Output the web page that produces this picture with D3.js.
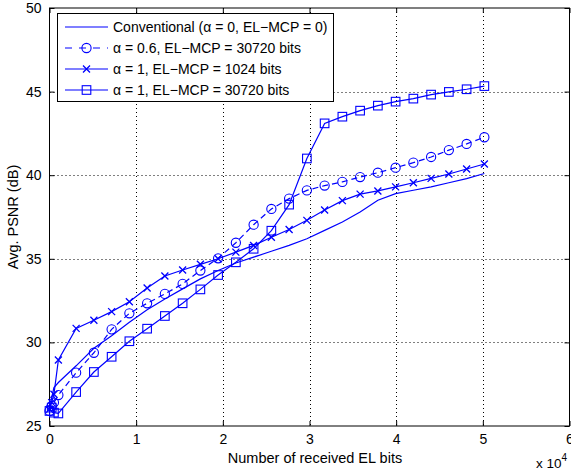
<!DOCTYPE html>
<html>
<head>
<meta charset="utf-8">
<script src="https://cdn.jsdelivr.net/npm/d3@7"></script>
<style>
  body { margin: 0; background: #fff; }
  svg { display: block; font-family: "Liberation Sans", Arial, sans-serif; }
</style>
</head>
<body>
<div id="chart"></div>
<script>
// received EL bits at each sample
const bits = [0, 256, 512, 1024, 3072, 5120, 7168, 9216, 11264, 13312, 15360, 17408, 19456,
  21504, 23552, 25600, 27648, 29696, 31744, 33792, 35840, 37888, 39936, 41984, 44032,
  46080, 48128, 50176];

const conventional = [26.0, 26.7, 27.3, 27.6, 28.6, 29.65, 30.4, 31.2, 31.95, 32.6, 33.2, 33.8,
  34.3, 34.75, 35.1, 35.45, 35.8, 36.2, 36.7, 37.2, 37.8, 38.5, 38.9, 39.1, 39.3, 39.55, 39.8, 40.1];

const alpha06 = [25.9, 26.2, 26.4, 26.85, 28.19, 29.38, 30.78, 31.74, 32.34, 32.9, 33.5, 34.3,
  35.03, 35.96, 37.04, 37.98, 38.6, 39.09, 39.38, 39.6, 39.89, 40.15, 40.45, 40.75, 41.09, 41.5,
  41.87, 42.27];

const alpha1small = [26.0, 26.4, 26.9, 28.95, 30.84, 31.32, 31.84, 32.43, 33.25, 33.97, 34.33,
  34.67, 35.0, 35.4, 35.8, 36.29, 36.75, 37.3, 37.92, 38.48, 38.87, 39.06, 39.3, 39.55, 39.81,
  40.07, 40.37, 40.67];

const alpha1big = [25.9, 26.1, 25.8, 25.75, 27.03, 28.23, 29.14, 30.07, 30.82, 31.58, 32.34,
  33.17, 34.03, 34.79, 35.6, 36.68, 38.24, 41.0, 43.1, 43.5, 43.86, 44.16, 44.4, 44.58, 44.82,
  44.98, 45.14, 45.33];

const legendLabels = [
  "Conventional (\u03b1 = 0, EL\u2212MCP = 0)",
  "\u03b1 = 0.6, EL\u2212MCP = 30720 bits",
  "\u03b1 = 1, EL\u2212MCP = 1024 bits",
  "\u03b1 = 1, EL\u2212MCP = 30720 bits"
];

const xTicks = [0, 10000, 20000, 30000, 40000, 50000, 60000];
const yTicks = [25, 30, 35, 40, 45, 50];

const width = 571, height = 475;
const margin = { left: 49.5, right: 1.5, top: 8, bottom: 49 };
const blue = "#0000ff";

const svg = d3.select("#chart").append("svg")
    .attr("width", width)
    .attr("height", height);

const x = d3.scaleLinear().domain([0, 60000]).range([margin.left, width - margin.right]);
const y = d3.scaleLinear().domain([25, 50]).range([height - margin.bottom, margin.top]);

// grid
const grid = svg.append("g")
    .attr("stroke", "#000")
    .attr("stroke-width", 1)
    .attr("stroke-dasharray", "1,3");
grid.selectAll("line.gx")
    .data(xTicks.slice(1, -1))
    .join("line")
    .attr("x1", d => Math.round(x(d)) + 0.5).attr("x2", d => Math.round(x(d)) + 0.5)
    .attr("y1", y(50)).attr("y2", y(25));
grid.selectAll("line.gy")
    .data(yTicks.slice(1, -1))
    .join("line")
    .attr("class", "gy")
    .attr("y1", d => Math.round(y(d)) + 0.5).attr("y2", d => Math.round(y(d)) + 0.5)
    .attr("x1", x(0)).attr("x2", x(60000));

// axes (MATLAB style: inward ticks on all sides)
const tk = 5;
svg.append("g")
    .attr("transform", `translate(0,${y(25)})`)
    .call(d3.axisBottom(x).tickValues(xTicks).tickSize(-tk).tickPadding(8).tickFormat(d => d / 10000))
    .call(g => g.select(".domain").remove());
svg.append("g")
    .attr("transform", `translate(0,${y(50)})`)
    .call(d3.axisTop(x).tickValues(xTicks).tickSize(-tk).tickFormat(""))
    .call(g => g.select(".domain").remove());
svg.append("g")
    .attr("transform", `translate(${x(0)},0)`)
    .call(d3.axisLeft(y).tickValues(yTicks).tickSize(-tk).tickPadding(8))
    .call(g => g.select(".domain").remove());
svg.append("g")
    .attr("transform", `translate(${x(60000)},0)`)
    .call(d3.axisRight(y).tickValues(yTicks).tickSize(-tk).tickFormat(""))
    .call(g => g.select(".domain").remove());

svg.selectAll(".tick text").attr("font-size", 14).attr("fill", "#000")
    .attr("font-family", "Liberation Sans, Arial, sans-serif");
svg.selectAll(".tick line").attr("stroke", "#000");

svg.append("rect")
    .attr("x", x(0)).attr("y", y(50))
    .attr("width", x(60000) - x(0)).attr("height", y(25) - y(50))
    .attr("fill", "none").attr("stroke", "#000").attr("stroke-width", 1);

// labels
svg.append("text")
    .attr("x", 315).attr("y", 463)
    .attr("text-anchor", "middle").attr("font-size", 14.5)
    .text("Number of received EL bits");
svg.append("text")
    .attr("transform", `translate(18,${(y(25) + y(50)) / 2}) rotate(-90)`)
    .attr("text-anchor", "middle").attr("font-size", 14.5)
    .text("Avg. PSNR (dB)");
const exp = svg.append("text").attr("x", 536).attr("y", 468).attr("font-size", 13.5);
exp.append("tspan").text("x 10");
exp.append("tspan").attr("dy", -7).attr("font-size", 10).text("4");

// series
const line = d3.line().x(d => x(d[0])).y(d => y(d[1]));
const series = [
  { values: conventional, dash: null, marker: null },
  { values: alpha06, dash: "6,4", marker: "circle" },
  { values: alpha1small, dash: null, marker: "cross" },
  { values: alpha1big, dash: null, marker: "square" }
];

function drawMarker(g, type, cx, cy) {
  if (type === "circle") {
    g.append("circle").attr("cx", cx).attr("cy", cy).attr("r", 4.6)
      .attr("fill", "none").attr("stroke", blue).attr("stroke-width", 1.1);
  } else if (type === "square") {
    g.append("rect").attr("x", cx - 4.3).attr("y", cy - 4.3).attr("width", 8.6).attr("height", 8.6)
      .attr("fill", "none").attr("stroke", blue).attr("stroke-width", 1.1);
  } else if (type === "cross") {
    const s = 3.5;
    g.append("path").attr("d", `M${cx - s},${cy - s}L${cx + s},${cy + s}M${cx - s},${cy + s}L${cx + s},${cy - s}`)
      .attr("stroke", blue).attr("stroke-width", 1.3);
  }
}

const plot = svg.append("g");
series.forEach(s => {
  const pts = bits.map((b, i) => [b, s.values[i]]);
  plot.append("path")
      .datum(pts)
      .attr("d", line)
      .attr("fill", "none")
      .attr("stroke", blue)
      .attr("stroke-width", 1.2)
      .attr("stroke-dasharray", s.dash);
  if (s.marker) {
    const mg = plot.append("g");
    pts.forEach(p => drawMarker(mg, s.marker, x(p[0]), y(p[1])));
  }
});

// legend
const lg = svg.append("g");
lg.append("rect")
    .attr("x", 57.5).attr("y", 13.5).attr("width", 276).attr("height", 88)
    .attr("fill", "#fff").attr("stroke", "#000").attr("stroke-width", 1);
series.forEach((s, i) => {
  const ly = 27 + i * 21;
  lg.append("line")
      .attr("x1", 65).attr("x2", 108).attr("y1", ly).attr("y2", ly)
      .attr("stroke", blue).attr("stroke-width", 1.2)
      .attr("stroke-dasharray", s.dash ? "7,7" : null);
  if (s.marker) drawMarker(lg, s.marker, 86.5, ly);
  lg.append("text")
      .attr("x", 113).attr("y", ly + 5)
      .attr("font-size", 14)
      .text(legendLabels[i]);
});
</script>
</body>
</html>
